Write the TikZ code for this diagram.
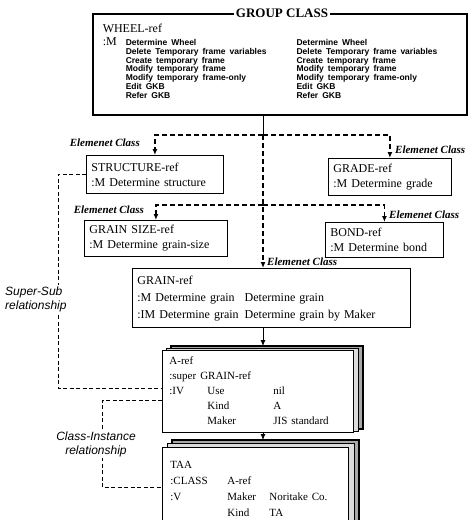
\documentclass[tikz,border=0pt]{standalone}
\usepackage{fontspec}
\setmainfont{Liberation Serif}
\setsansfont{Liberation Sans}
\usepackage{tikz}
\usetikzlibrary{calc,arrows.meta,backgrounds}
\definecolor{sheetGrey}{HTML}{A8A8A8}
\definecolor{sheetLight}{HTML}{DCDCDC}
\newcommand{\wheelfont}{\sffamily\bfseries\fontsize{8.5}{8.7}\selectfont}
\newcommand{\boxfont}{\rmfamily\mdseries\fontsize{12}{14}\selectfont}
\tikzset{
  framebox/.style 2 args={rectangle, draw=black, fill=white, line width=0.8pt, anchor=north west, align=left, text width=#1, minimum height=#2, inner xsep=5pt, inner ysep=2pt, font=\fontsize{12}{15}\selectfont},
  grouptitle/.style={fill=white, font=\fontsize{13}{15}\selectfont\bfseries, inner sep=1.5pt},
  linkline/.style={line width=0.8pt},
  linkarrow/.style={line width=0.8pt, -{Latex[length=6pt,width=5pt]}},
  elemline/.style={line width=1.2pt, dash pattern=on 5pt off 3pt},
  elemarrow/.style={elemline, -{Latex[length=6pt,width=5pt]}},
  relline/.style={line width=0.6pt, dash pattern=on 4pt off 2.5pt},
  elemlabel/.style={font=\fontsize{11}{13}\selectfont\bfseries\itshape, inner sep=1pt},
  rellabel/.style={font=\sffamily\itshape\fontsize{12}{14}\selectfont, fill=white, inner sep=1pt},
  backsheet/.style={draw=black, line width=1.6pt, fill=sheetGrey},
  midsheet/.style={draw=black, line width=0.4pt, fill=sheetLight},
}

\begin{document}
\begin{tikzpicture}[x=1pt,y=-1pt]
  \clip (0,0) rectangle (470,520);

  % group class
  \node[framebox={354pt}{101pt}, line width=1.5pt, inner xsep=10pt]
  (wheel) at (92,13)
  {{\wheelfont\begin{tabular}{@{}l@{\hspace{9pt}}l@{\hspace{30pt}}l@{}}
    \multicolumn{3}{@{}l}{\boxfont WHEEL-ref}\\[3pt]
    \boxfont :M & Determine Wheel & Determine Wheel\\
    & Delete Temporary frame variables & Delete Temporary frame variables\\
    & Create temporary frame & Create temporary frame\\
    & Modify temporary frame & Modify temporary frame\\
    & Modify temporary frame-only & Modify temporary frame-only\\
    & Edit GKB & Edit GKB\\
    & Refer GKB & Refer GKB\\[4pt]
  \end{tabular}}};
  \node[grouptitle] (gtitle) at (282,13) {GROUP CLASS};

  % element classes
  \node[framebox={127pt}{38pt}] (structure) at (86,155)
  {STRUCTURE-ref\\:M Determine structure};

  \node[framebox={113pt}{37pt}] (grade) at (328,158)
  {GRADE-ref\\:M Determine grade};

  \node[framebox={133pt}{36pt}] (grainsize) at (84,220)
  {GRAIN SIZE-ref\\:M Determine grain-size};

  \node[framebox={108pt}{35pt}] (bond) at (325,222)
  {BOND-ref\\:M Determine bond};

  \node[framebox={268pt}{59pt}] (grain) at (132,268)
  {{\fontsize{12}{17}\selectfont\begin{tabular}{@{}l@{\hspace{6pt}}l@{}}
    GRAIN-ref & \\
    :M Determine grain & Determine grain\\
    :IM Determine grain & Determine grain by Maker
  \end{tabular}}};

  % sub class and instance
  \node[framebox={177pt}{82pt}, inner xsep=7pt] (aref) at (162,350)
  {{\fontsize{11}{15}\selectfont\begin{tabular}{@{}p{38pt}@{}p{66pt}@{}l@{}}
    \multicolumn{3}{@{}l}{A-ref}\\
    \multicolumn{3}{@{}l}{:super GRAIN-ref}\\
    :IV & Use & nil\\
    & Kind & A\\
    & Maker & JIS standard
  \end{tabular}}};

  \node[framebox={170pt}{84pt}, inner xsep=8pt] (taa) at (162,447)
  {{\fontsize{11}{16}\selectfont\begin{tabular}{@{}p{57pt}@{}p{42pt}@{}l@{}}
    TAA & & \\
    :CLASS & A-ref & \\
    :V & Maker & Noritake Co.\\
    & Kind & TA
  \end{tabular}}};

  \begin{scope}[on background layer]
    \draw[backsheet] ($(aref.north west)+(9,-4)$) rectangle ($(aref.south east)+(9,-4)$);
    \draw[midsheet] ($(aref.north west)+(4.5,-2)$) rectangle ($(aref.south east)+(4.5,-2)$);
    \draw[backsheet] ($(taa.north west)+(10,-7)$) rectangle ($(taa.south east)+(10,-7)$);
    \draw[midsheet] ($(taa.north west)+(5,-3.5)$) rectangle ($(taa.south east)+(5,-3.5)$);
  \end{scope}

  % connectors
  \coordinate (hub) at (263,135);
  \coordinate (hubtwo) at (263,205);

  \draw[linkline] (wheel.south -| hub) -- (hub);
  \draw[elemarrow] (hub) -| (structure.north);
  \draw[elemarrow] (hub) -| (grade.north);
  \draw[elemarrow] (hub) -- (grain.north -| hub);
  \draw[elemarrow] (hubtwo) -| (grainsize.north);
  \draw[elemarrow] (hubtwo) -| (bond.north);
  \draw[linkarrow] (grain.south -| hub) -- ($(aref.north -| hub)+(0,-4)$);
  \draw[linkarrow] (aref.south -| hub) -- ($(taa.north -| hub)+(0,-7)$);

  \node[elemlabel, anchor=east] (elstruct) at (141,143) {Elemenet Class};
  \node[elemlabel, anchor=west] (elgrade) at (394,150) {Elemenet Class};
  \node[elemlabel, anchor=east] (elsize) at (145,210) {Elemenet Class};
  \node[elemlabel, anchor=west] (elbond) at (388,215) {Elemenet Class};
  \node[elemlabel, anchor=west] (elgrain) at (266,262) {Elemenet Class};

  % relationships
  \draw[relline] (structure.west) -- ++(-28,0) |- ([yshift=3pt]aref.west);
  \node[rellabel, anchor=west, align=left] (supersub) at (4,299)
  {Super-Sub\\relationship};

  \draw[relline] ([yshift=-9pt]aref.west) -- ++(-60,0) |- ([yshift=2pt]taa.west);
  \node[rellabel, align=center] (classinst) at (96,444)
  {Class-Instance\\relationship};
\end{tikzpicture}
\end{document}
